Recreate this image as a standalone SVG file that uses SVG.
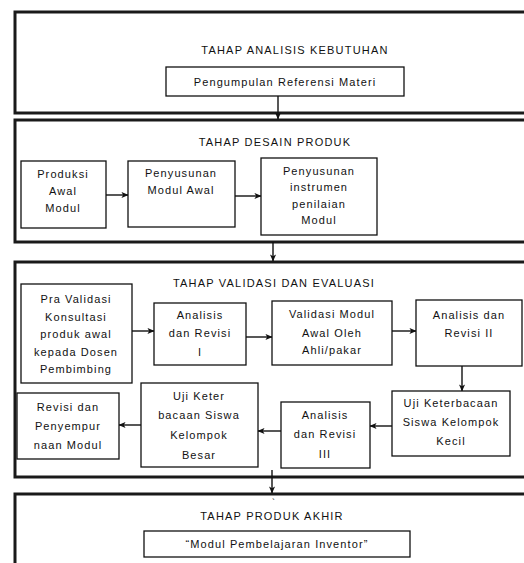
<svg xmlns="http://www.w3.org/2000/svg" width="524" height="563" viewBox="0 0 524 563">
<defs>
<marker id="ah" viewBox="0 0 8 8" refX="7.5" refY="4" markerWidth="7" markerHeight="7" markerUnits="userSpaceOnUse" orient="auto">
<path d="M0,0.5 L8,4 L0,7.5 L2,4 Z" fill="#111"/>
</marker>
<style>
.stage{fill:#fff;stroke:#1a1a1a;stroke-width:3}
.box{fill:#fff;stroke:#111;stroke-width:1.3}
text{font-family:"Liberation Sans",Arial,sans-serif;font-size:11px;letter-spacing:1.1px;fill:#111;text-anchor:middle;dominant-baseline:central}
.ttl{font-size:11px;letter-spacing:1.2px}
.con{stroke:#111;stroke-width:1.4;fill:none;marker-end:url(#ah)}
</style>
</defs>
<rect width="524" height="563" fill="#fff"/>

<g id="stage1">
<rect class="stage" x="15" y="12" width="520" height="101"/>
<text class="ttl" x="295" y="50">TAHAP ANALISIS KEBUTUHAN</text>
</g>
<g id="n-pengumpulan">
<rect class="box" x="166" y="67" width="238" height="29"/>
<text x="285" y="82">Pengumpulan  Referensi Materi</text>
</g>

<g id="stage2">
<rect class="stage" x="15" y="120" width="520" height="122"/>
<text class="ttl" x="275" y="142">TAHAP DESAIN PRODUK</text>
</g>
<g id="n-produksi">
<rect class="box" x="21" y="161" width="85" height="67"/>
<text x="63" y="174">Produksi</text>
<text x="63" y="191">Awal</text>
<text x="63" y="208">Modul</text>
</g>
<g id="n-penyusunan-modul">
<rect class="box" x="128" y="161" width="107" height="66"/>
<text x="181" y="173">Penyusunan</text>
<text x="181" y="190">Modul Awal</text>
</g>
<g id="n-penyusunan-instrumen">
<rect class="box" x="261" y="158" width="116" height="77"/>
<text x="319" y="171">Penyusunan</text>
<text x="319" y="187">instrumen</text>
<text x="319" y="204">penilaian</text>
<text x="319" y="220">Modul</text>
</g>

<g id="stage3">
<rect class="stage" x="15" y="262" width="520" height="215"/>
<text class="ttl" x="274" y="283">TAHAP VALIDASI DAN EVALUASI</text>
</g>
<g id="n-pravalidasi">
<rect class="box" x="21" y="284" width="111" height="99"/>
<text x="76" y="299">Pra Validasi</text>
<text x="76" y="317">Konsultasi</text>
<text x="76" y="334">produk awal</text>
<text x="76" y="352">kepada Dosen</text>
<text x="76" y="369">Pembimbing</text>
</g>
<g id="n-analisis1">
<rect class="box" x="154" y="303" width="92" height="62"/>
<text x="200" y="315">Analisis</text>
<text x="200" y="333">dan Revisi</text>
<text x="200" y="352">I</text>
</g>
<g id="n-validasi">
<rect class="box" x="272" y="301" width="120" height="64"/>
<text x="332" y="314">Validasi Modul</text>
<text x="332" y="333">Awal Oleh</text>
<text x="332" y="350">Ahli/pakar</text>
</g>
<g id="n-analisis2">
<rect class="box" x="416" y="300" width="106" height="66"/>
<text x="469" y="315">Analisis dan</text>
<text x="469" y="333">Revisi II</text>
</g>
<g id="n-uji-kecil">
<rect class="box" x="392" y="391" width="118" height="65"/>
<text x="451" y="403">Uji Keterbacaan</text>
<text x="451" y="422">Siswa Kelompok</text>
<text x="451" y="441">Kecil</text>
</g>
<g id="n-analisis3">
<rect class="box" x="281" y="402" width="89" height="66"/>
<text x="325" y="415">Analisis</text>
<text x="325" y="434">dan Revisi</text>
<text x="325" y="454">III</text>
</g>
<g id="n-uji-besar">
<rect class="box" x="141" y="383" width="117" height="84"/>
<text x="199" y="396">Uji Keter</text>
<text x="199" y="415">bacaan Siswa</text>
<text x="199" y="435">Kelompok</text>
<text x="199" y="455">Besar</text>
</g>
<g id="n-revisi">
<rect class="box" x="17" y="393" width="102" height="66"/>
<text x="68" y="407">Revisi dan</text>
<text x="68" y="426">Penyempur</text>
<text x="68" y="445">naan Modul</text>
</g>

<g id="stage4">
<rect class="stage" x="15" y="494" width="520" height="80"/>
<text x="274" y="502" style="font-size:9px">`</text>
<text class="ttl" x="272" y="516">TAHAP PRODUK AKHIR</text>
</g>
<g id="n-modul-akhir">
<rect class="box" x="144" y="531" width="266" height="26"/>
<text x="277" y="544">“Modul Pembelajaran Inventor”</text>
</g>

<g id="connectors">
<path class="con" d="M278,96 V119"/>
<path class="con" d="M106,195 H128"/>
<path class="con" d="M235,196 H261"/>
<path class="con" d="M273,242 V261"/>
<path class="con" d="M132,331 H154"/>
<path class="con" d="M246,337 H272"/>
<path class="con" d="M392,331 H416"/>
<path class="con" d="M462,366 V391"/>
<path class="con" d="M392,426 H370"/>
<path class="con" d="M281,431 H258"/>
<path class="con" d="M141,425 H119"/>
<path class="con" d="M272,470 V493"/>
</g>
</svg>
